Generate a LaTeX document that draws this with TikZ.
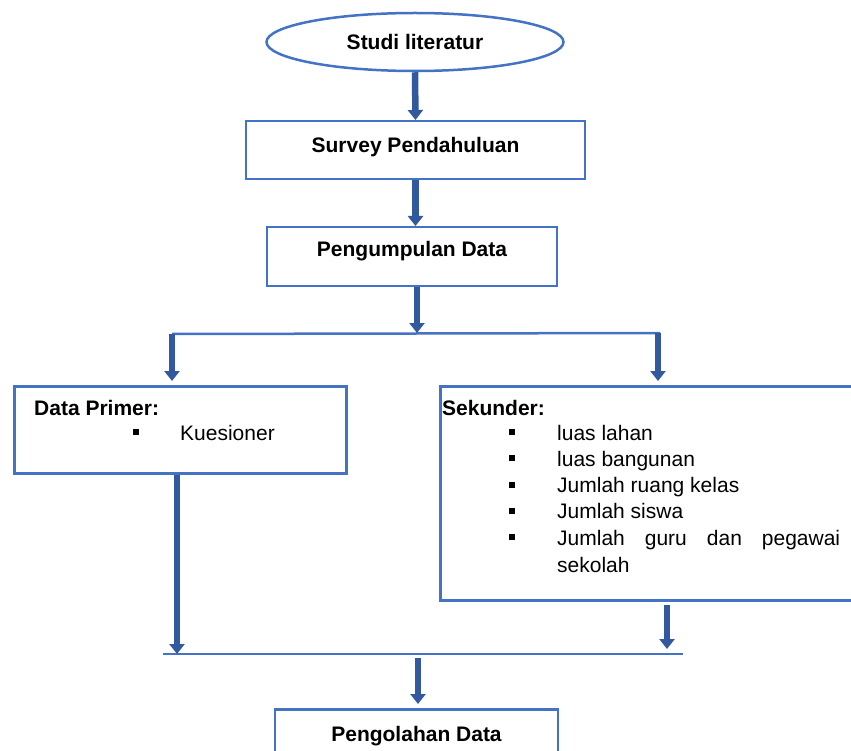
\documentclass[tikz,border=0pt]{standalone}
\usepackage{fontspec}
\setmainfont{Liberation Sans}
\usetikzlibrary{arrows.meta,shapes.geometric}
\definecolor{boxblue}{RGB}{68,114,196}
\definecolor{arrowblue}{RGB}{50,88,160}
\newcommand\diagfont{\fontsize{21}{26}\selectfont}
\tikzset{
  stepbox/.style={draw=boxblue, line width=2.5pt, inner sep=0pt, font=\diagfont\bfseries},
  flow/.style={draw=arrowblue, line width=6.5pt, -{Triangle[width=15pt,length=10pt]}},
  link/.style={draw=boxblue, line width=2.5pt},
  txt/.style={inner sep=0pt, anchor=base west, font=\diagfont},
  dot/.style={fill=black, inner sep=0pt, minimum size=6pt}
}
\begin{document}
\begin{tikzpicture}[x=1pt,y=-1pt]
\useasboundingbox (0,0) rectangle (851,751);

\node[stepbox, ellipse, minimum width=297pt, minimum height=58pt] (studi) at (415,42) {Studi literatur};
\node[stepbox, minimum width=339pt, text height=31pt, text depth=27pt, anchor=north] (survey) at (415.5,120) {Survey Pendahuluan};
\node[stepbox, minimum width=290pt, text height=29pt, text depth=30pt, anchor=north] (kumpul) at (412,226) {Pengumpulan Data};

\draw[flow] (studi.south) -- (survey.north);
\draw[flow] (survey.south) -- (survey.south |- kumpul.north);

\node[stepbox, minimum width=332pt, minimum height=87pt, anchor=north west] (primer) at (13,385) {};
\node[txt, font=\diagfont\bfseries] (primerhead) at (34,415) {Data Primer:};
\node[dot] (primerdot) at (136,432) {};
\node[txt] (kuesioner) at (180,440) {Kuesioner};

\node[stepbox, minimum width=441pt, minimum height=214pt, anchor=north west] (sekunder) at (439,385) {};
\node[txt, font=\diagfont\bfseries] (sekhead) at (442,415) {Sekunder:};
\foreach \entry [count=\i] in {luas lahan,luas bangunan,Jumlah ruang kelas,Jumlah siswa,\makebox[283pt][s]{Jumlah guru dan pegawai}} {
  \node[dot] (sekdot\i) at (512,{432+(\i-1)*26.3}) {};
  \node[txt] (sekitem\i) at (557,{440+(\i-1)*26.3}) {\entry};
}
\node[txt] (sekitem6) at (557,572) {sekolah};

\coordinate (split) at (417,333);
\coordinate (splitL) at (172,334);
\coordinate (splitR) at (658,333);
\draw[link] (splitL) -- ([xshift=2pt]splitR);
\draw[flow] (kumpul.south -| split) -- (split);
\draw[flow, shorten >=4pt] (splitL) -- (splitL |- primer.north);
\draw[flow, shorten >=4pt] (splitR) -- (splitR |- sekunder.north);

\node[stepbox, minimum width=283pt, text height=32pt, text depth=35pt, anchor=north] (olah) at (416.5,708) {Pengolahan Data};

\coordinate (merge) at (418,654);
\coordinate (mergeL) at (177,654);
\coordinate (mergeR) at (667,654);
\draw[link] ([xshift=-14pt]mergeL) -- ([xshift=16pt]mergeR);
\draw[flow] (primer.south -| mergeL) -- (mergeL);
\draw[flow, shorten <=3pt, shorten >=5pt] (sekunder.south -| mergeR) -- (mergeR);
\draw[flow, shorten <=4pt, shorten >=4pt] (merge) -- (merge |- olah.north);
\end{tikzpicture}
\end{document}
